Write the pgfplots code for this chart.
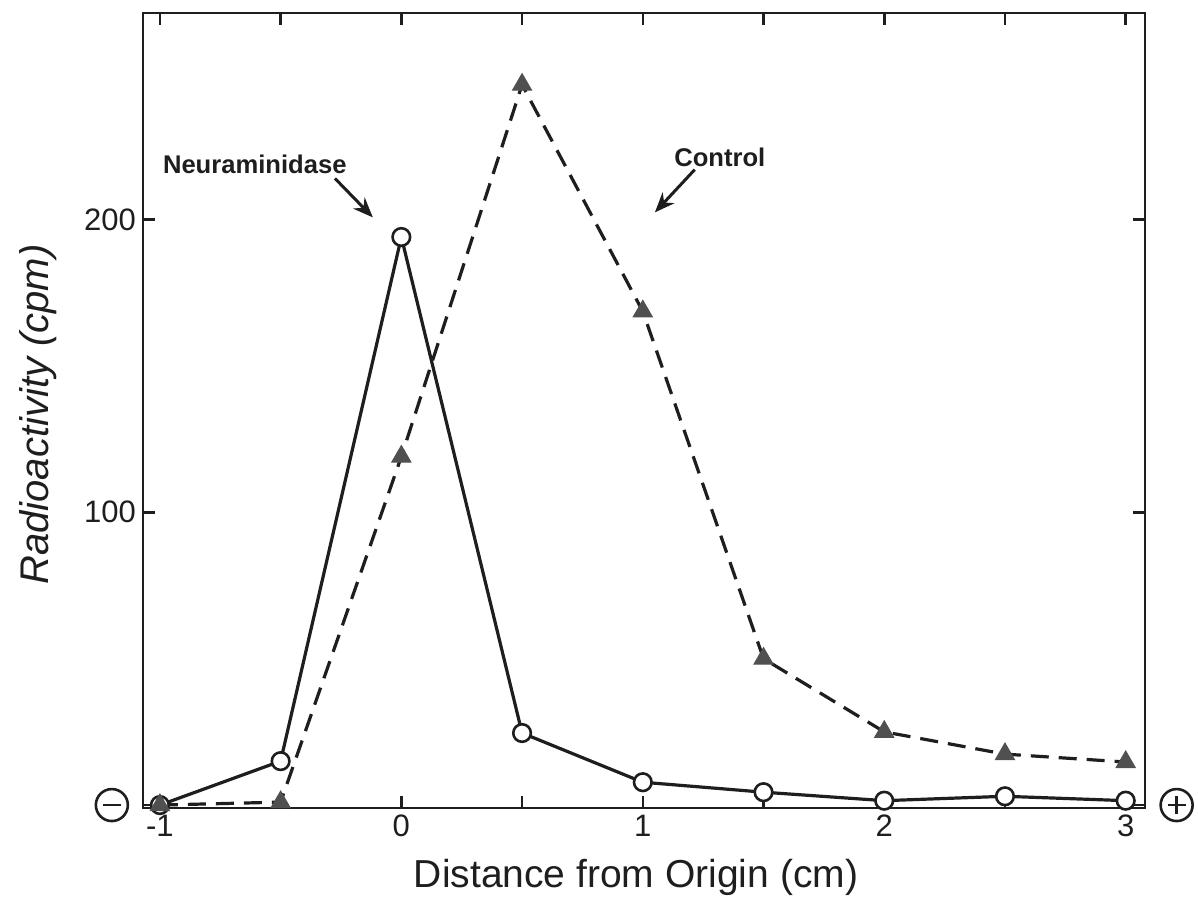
\documentclass[border=0pt]{standalone}
\usepackage{fontspec}
\setmainfont{Liberation Sans}
\usepackage{pgfplots}
\pgfplotsset{compat=1.18}
\usetikzlibrary{arrows.meta}
\definecolor{ink}{HTML}{1E1E1E}
\definecolor{trifill}{HTML}{505050}
\begin{document}
\begin{tikzpicture}
\begin{axis}[
  at={(0,0)}, anchor=south west,
  scale only axis, width=501pt, height=397.5pt,
  xmin=-1.07, xmax=3.08, ymin=-1, ymax=270.5,
  axis line style={ink, line width=1.3pt},
  clip=false,
  xtick={-1,-0.5,...,3},
  xticklabels={-1,,0,,1,,2,,3},
  ytick={0,100,200}, yticklabels={,100,200},
  tick style={ink, line width=1.3pt},
  major tick length=6pt,
  tick align=inside,
  /pgf/number format/assume math mode=true,
  ticklabel style={font=\fontsize{15.5}{18}\selectfont, text=ink},
  xlabel={Distance from Origin (cm)},
  ylabel={\itshape Radioactivity (cpm)},
  every axis x label/.style={at={(axis description cs:0.492,-0.087)}, anchor=center, font=\fontsize{19.5}{23}\selectfont, text=ink},
  every axis y label/.style={at={(axis description cs:-0.105,0.495)}, anchor=center, rotate=90, font=\fontsize{20}{24}\selectfont, text=ink},
]
\addplot[ink, line width=1.6pt, mark=*, mark size=4.4pt,
  mark options={fill=white, draw=ink, line width=1.3pt, solid}]
  coordinates {(-1,0) (-0.5,15) (0,194) (0.5,24.6) (1,7.8) (1.5,4.4) (2,1.5) (2.5,3) (3,1.5)};
\addplot[ink, line width=1.6pt, dash pattern=on 9pt off 5pt, mark=triangle*, mark size=5.5pt,
  mark options={fill=trifill, draw=trifill, line width=0.5pt, solid}]
  coordinates {(-1,0) (-0.5,1) (0,119) (0.5,246) (1,168.6) (1.5,50) (2,25) (2.5,17.4) (3,14.7)};
\node[font=\bfseries\fontsize{12.8}{15}\selectfont, text=ink] at (axis cs:-0.607,218.8) {Neuraminidase};
\node[font=\bfseries\fontsize{12.8}{15}\selectfont, text=ink] at (axis cs:1.319,221.2) {Control};
\draw[ink, line width=1.5pt, -{Stealth[length=10pt,width=8pt]}] (axis cs:-0.275,214) -- (axis cs:-0.118,200.7);
\draw[ink, line width=1.5pt, -{Stealth[length=10pt,width=8pt]}] (axis cs:1.215,217) -- (axis cs:1.05,202.4);
\coordinate (m) at (axis cs:-1.199,0);
\coordinate (p) at (axis cs:3.211,0);
\end{axis}
\node[circle, draw=ink, line width=1.3pt, minimum size=16pt, inner sep=0pt] at (m) {};
\draw[ink, line width=1.3pt] ([xshift=-4.5pt]m) -- ([xshift=4.5pt]m);
\node[circle, draw=ink, line width=1.3pt, minimum size=16pt, inner sep=0pt] at (p) {};
\draw[ink, line width=1.3pt] ([xshift=-4.5pt]p) -- ([xshift=4.5pt]p);
\draw[ink, line width=1.3pt] ([yshift=-4.5pt]p) -- ([yshift=4.5pt]p);
\path (-71.5pt,-53pt) rectangle (527.5pt,404pt);
\end{tikzpicture}
\end{document}
